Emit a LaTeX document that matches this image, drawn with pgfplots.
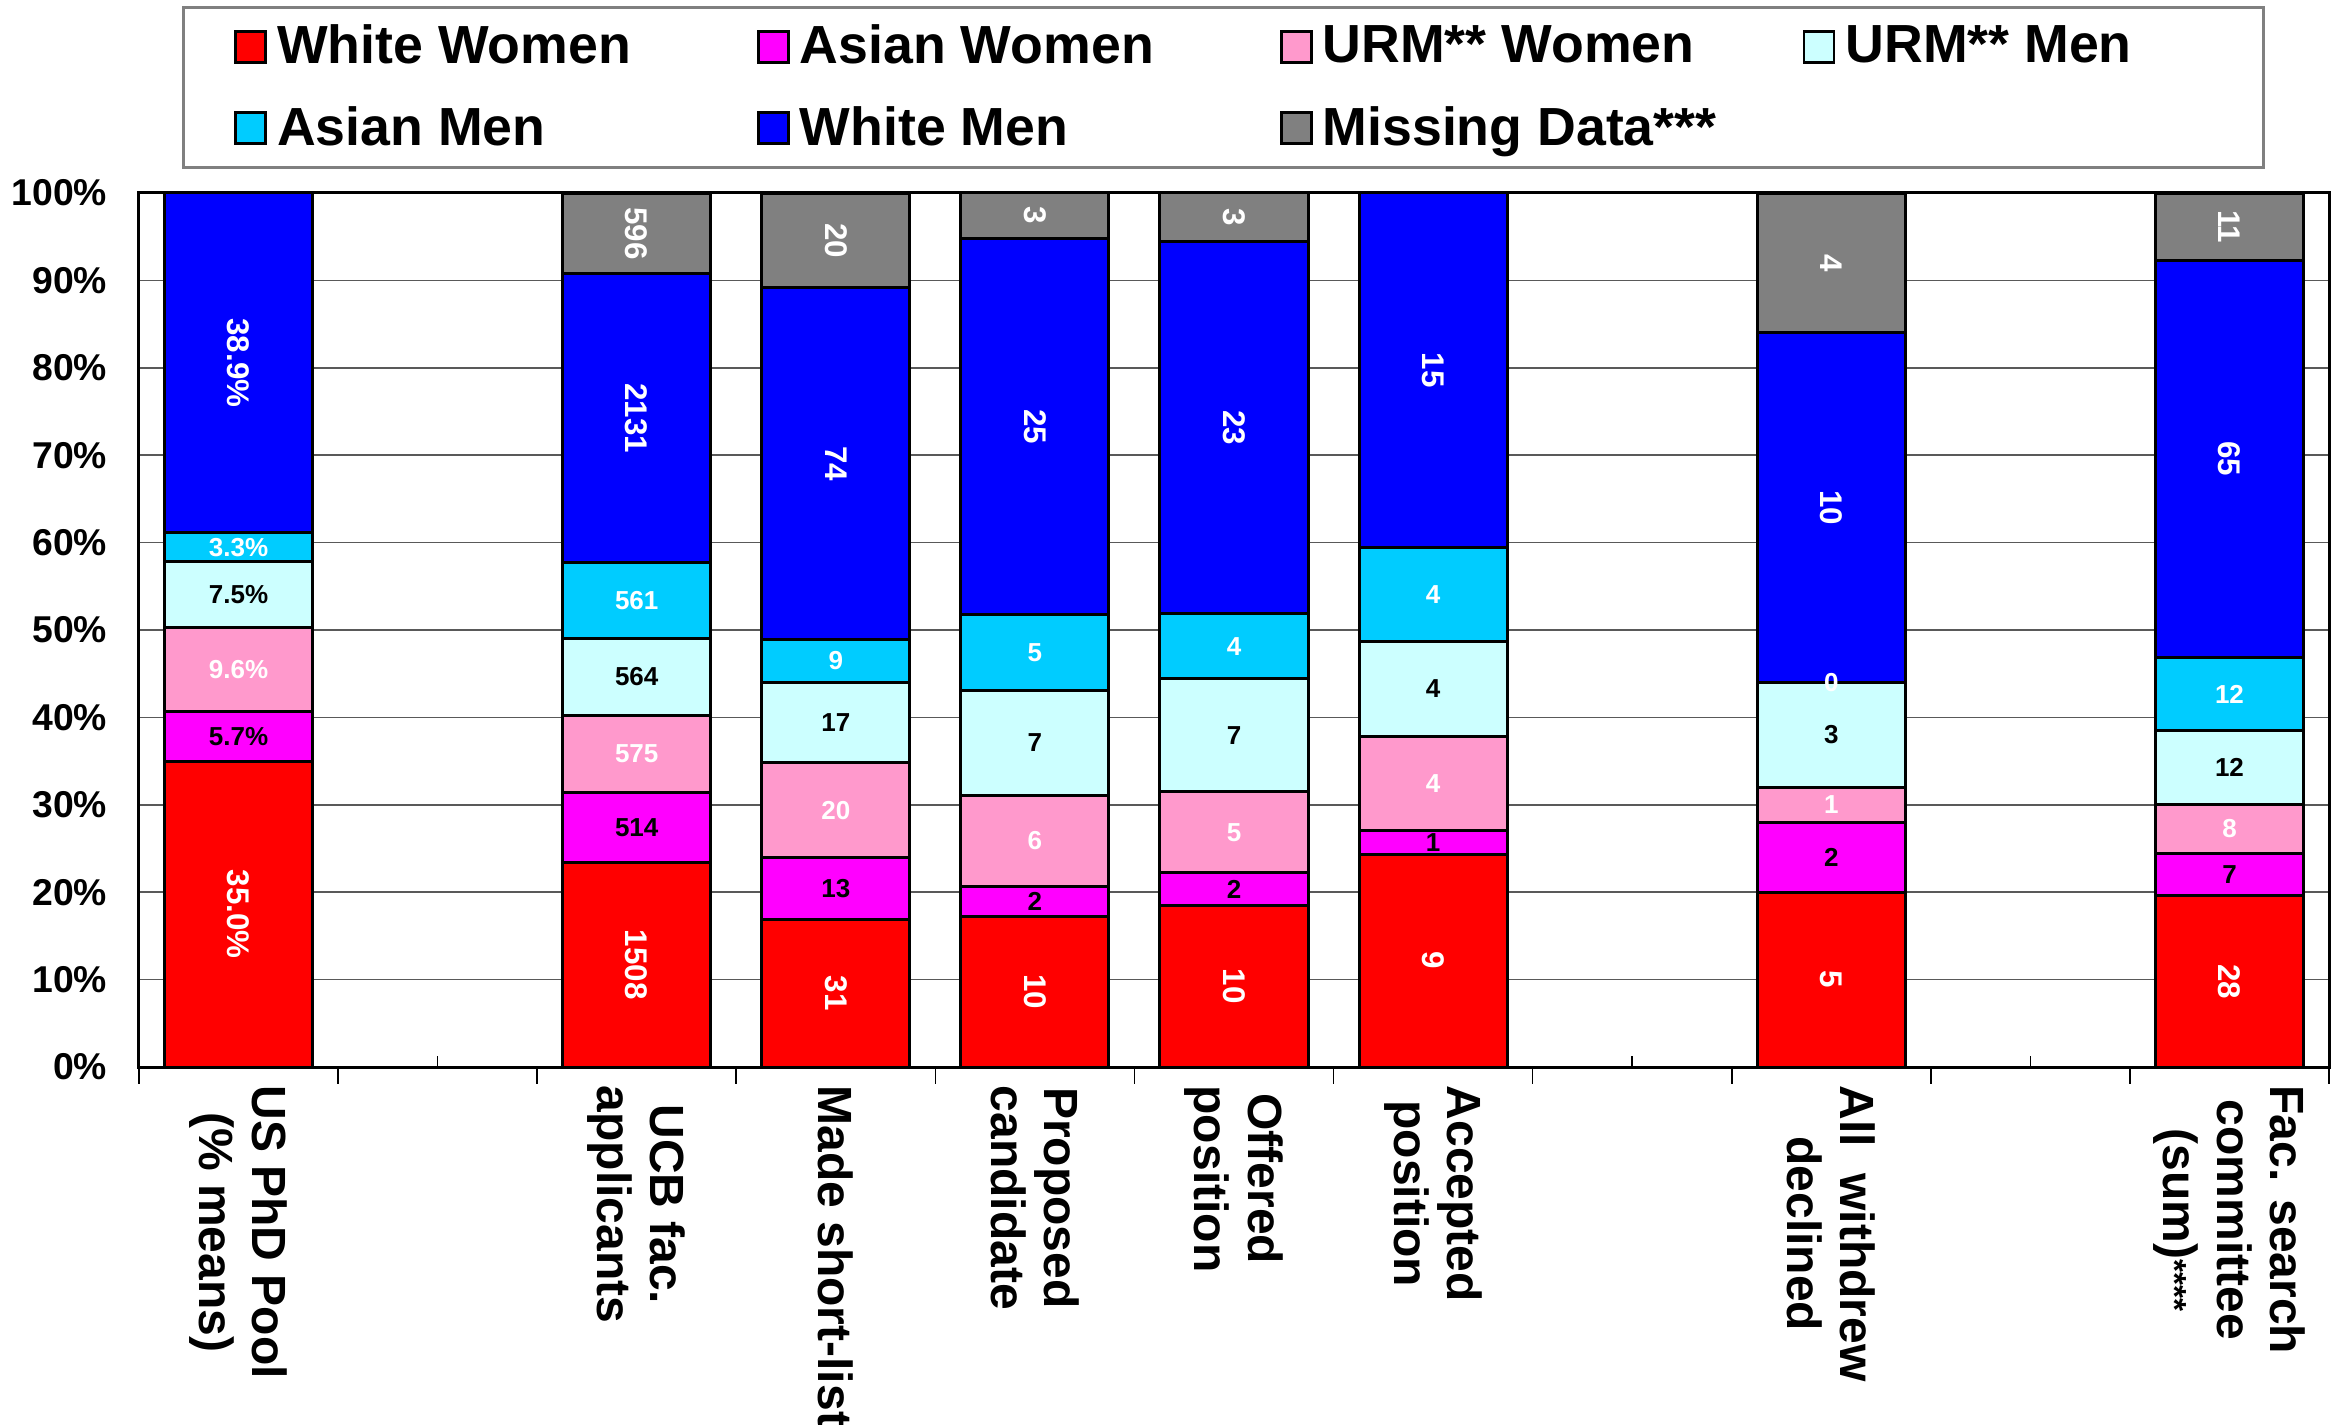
\documentclass[border=0pt]{standalone}
\usepackage{pgfplots}
\pgfplotsset{compat=1.18}
\usepackage{pgfplotstable}
\usepackage{fontspec}
\setmainfont{Liberation Sans}
\definecolor{cWW}{HTML}{FF0000}
\definecolor{cAW}{HTML}{FF00FF}
\definecolor{cUW}{HTML}{FF99CC}
\definecolor{cUM}{HTML}{CCFFFF}
\definecolor{cAM}{HTML}{00CCFF}
\definecolor{cWM}{HTML}{0000FF}
\definecolor{cMD}{HTML}{808080}

\pgfplotsset{
  sqlegend/.style={legend image code/.code={\draw[##1, draw=black, line width=0.8pt] (0pt,-4.7pt) rectangle (9pt,4.7pt); \path (10pt,0pt);}},
  seg/.style={fill=#1, draw=black, line width=0.9pt, sqlegend},
  lblw/.style={every node near coord/.append style={text=white}},
  lblb/.style={every node near coord/.append style={text=black}},
  lblrot/.style={every node near coord/.append style={rotate=-90, font=\fontsize{9.4}{10}\selectfont\bfseries}},
}

% x: slot; ww..md: percent of the bar; l..: printed labels (counts)
\pgfplotstableread{
x ww aw uw um am wm md lww law luw lum lam lwm lmd
0 35.0 5.7 9.6 7.5 3.3 38.9 0 35.0\% 5.7\% 9.6\% 7.5\% 3.3\% 38.9\% {}
2 23.383 7.970 8.916 8.746 8.699 33.044 9.240 1508 514 575 564 561 2131 596
3 16.848 7.065 10.870 9.239 4.891 40.217 10.868 31 13 20 17 9 74 20
4 17.241 3.448 10.345 12.069 8.621 43.103 5.172 10 2 6 7 5 25 3
5 18.519 3.704 9.259 12.963 7.407 42.593 5.554 10 2 5 7 4 23 3
6 24.324 2.703 10.811 10.811 10.811 40.539 0 9 1 4 4 4 15 {}
8 20 8 4 12 0 40 15.998 5 2 1 3 {} 10 4
10 19.580 4.895 5.594 8.392 8.392 45.455 7.690 28 7 8 12 12 65 11
}\datatable

\begin{document}
\begin{tikzpicture}[x=1pt,y=1pt]
\useasboundingbox (-41.7,-107.4) rectangle (661.5,320.1);
\begin{axis}[
  at={(0,0)}, anchor=south west,
  scale only axis, width=657pt, height=262.2pt,
  ybar stacked, bar width=0.744,
  xmin=-0.5, xmax=10.5, ymin=0, ymax=100,
  axis line style={black, line width=0.9pt},
  xtick={0,...,10},
  xticklabels={{US PhD Pool\\(\% means)}, {}, {UCB fac.\\applicants}, {Made short-list}, {Proposed\\candidate}, {Offered\\position}, {Accepted\\position}, {}, {All\ \ withdrew\\declined}, {}, {Fac. search\\committee\\(sum){\fontsize{10}{10}\selectfont****}}},
  xticklabel style={rotate=-90, anchor=west, align=center, inner xsep=5.4pt, inner ysep=0pt, font=\fontsize{14.4}{16}\selectfont\bfseries},
  xtick pos=left,
  tick align=inside,
  major tick length=3.2pt,
  x tick style={black, line width=0.5pt},
  extra x ticks={-0.5,0.5,...,10.5},
  extra x tick labels={},
  extra x tick style={tick align=outside, major tick length=5pt},
  ytick={0,10,...,100},
  y tick style={draw=none},
  ymajorgrids, grid style={black!65, line width=0.5pt},
  yticklabel={\pgfmathprintnumber{\tick}\%},
  yticklabel style={font=\fontsize{11.2}{12}\selectfont\bfseries, inner sep=0pt, xshift=-9.4pt, /pgf/number format/assume math mode=true},
  nodes near coords,
  point meta=explicit symbolic,
  every node near coord/.append style={anchor=center, inner sep=0pt, font=\fontsize{7.8}{9}\selectfont\bfseries},
  legend columns=4,
  legend style={at={(axis description cs:0.0196,1.214)}, anchor=north west, draw=black!50, line width=0.8pt,
    font=\fontsize{16.1}{18}\selectfont\bfseries, inner xsep=15.3pt, inner ysep=3.3pt, row sep=7.2pt},
]
\addplot[seg=cWW, lblw, lblrot] table[x=x, y=ww, meta=lww] {\datatable};
\addplot[seg=cAW, lblb] table[x=x, y=aw, meta=law] {\datatable};
\addplot[seg=cUW, lblw] table[x=x, y=uw, meta=luw] {\datatable};
\addplot[seg=cUM, lblb] table[x=x, y=um, meta=lum] {\datatable};
\addplot[seg=cAM, lblw] table[x=x, y=am, meta=lam] {\datatable};
\addplot[seg=cWM, lblw, lblrot] table[x=x, y=wm, meta=lwm] {\datatable};
\addplot[seg=cMD, lblw, lblrot] table[x=x, y=md, meta=lmd] {\datatable};
\addlegendentry{\makebox[142pt][l]{White Women}}
\addlegendentry{\makebox[142pt][l]{Asian Women}}
\addlegendentry{\makebox[142pt][l]{URM** Women}}
\addlegendentry{\makebox[108pt][l]{URM** Men}}
\addlegendentry{\makebox[142pt][l]{Asian Men}}
\addlegendentry{\makebox[142pt][l]{White Men}}
\addlegendentry{\makebox[142pt][l]{Missing Data***}}
\end{axis}
% overlay axis: the zero-size Asian Men segment of "All withdrew declined" (label drawn on top)
\begin{axis}[
  at={(0,0)}, anchor=south west,
  scale only axis, width=657pt, height=262.2pt,
  xmin=-0.5, xmax=10.5, ymin=0, ymax=100, hide axis,
]
\addplot[draw=none, mark=none, nodes near coords, point meta=explicit symbolic,
  every node near coord/.append style={anchor=center, inner sep=0pt, text=white, font=\fontsize{7.8}{9}\selectfont\bfseries}]
  coordinates {(8,44) [0]};
\end{axis}
\end{tikzpicture}
\end{document}
